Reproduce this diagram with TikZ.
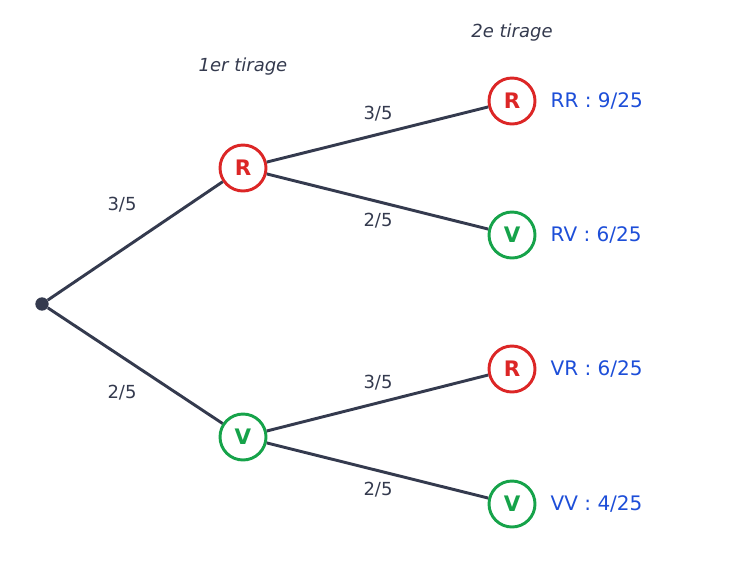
\documentclass[tikz,border=0pt]{standalone}
\usepackage{fontspec}
\setmainfont{DejaVu Sans}
\definecolor{ink}{HTML}{343A4E}
\definecolor{rouge}{HTML}{DC2626}
\definecolor{vert}{HTML}{16A34A}
\definecolor{bleu}{HTML}{1D4ED8}
\begin{document}
\begin{tikzpicture}[x=0.75pt,y=0.75pt,yscale=-1,xscale=1,
  tirage/.style={circle,draw=#1,text=#1,line width=2.2pt,fill=white,minimum size=34.5pt,inner sep=0pt,font=\fontsize{16}{16}\selectfont\bfseries},
  branche/.style={draw=ink,line width=2.2pt},
  proba/.style={text=ink,font=\fontsize{13.5}{14}\selectfont},
  issue/.style={text=bleu,anchor=west,font=\fontsize{15}{16}\selectfont},
  titre/.style={text=ink,font=\fontsize{13.5}{14}\selectfont\itshape}]
\useasboundingbox (0,0) rectangle (756,561);

% Root
\node (o) [circle,fill=ink,inner sep=0pt,minimum size=10pt] at (42,304) {};
% First draw
\node (r) [tirage=rouge] at (243,168) {R};
\node (v) [tirage=vert] at (243,437) {V};
% Second draw
\node (rr) [tirage=rouge] at (512,101) {R};
\node (rv) [tirage=vert] at (512,235) {V};
\node (vr) [tirage=rouge] at (512,369) {R};
\node (vv) [tirage=vert] at (512,504) {V};

\draw [branche] (o) -- (r);
\draw [branche] (o) -- (v);
\draw [branche] (r) -- (rr);
\draw [branche] (r) -- (rv);
\draw [branche] (v) -- (vr);
\draw [branche] (v) -- (vv);

% Text Node
\node (p1) [proba] at (122,205) {3/5};
\node (p2) [proba] at (122,393) {2/5};
\node (p3) [proba] at (378,114) {3/5};
\node (p4) [proba] at (378,221) {2/5};
\node (p5) [proba] at (378,383) {3/5};
\node (p6) [proba] at (378,490) {2/5};

\node (t1) [titre] at (243,67) {1er tirage};
\node (t2) [titre] at (512,33) {2e tirage};

\node (irr) [issue] at (546,101) {RR : 9/25};
\node (irv) [issue] at (546,235) {RV : 6/25};
\node (ivr) [issue] at (546,369) {VR : 6/25};
\node (ivv) [issue] at (546,504) {VV : 4/25};

\end{tikzpicture}
\end{document}
